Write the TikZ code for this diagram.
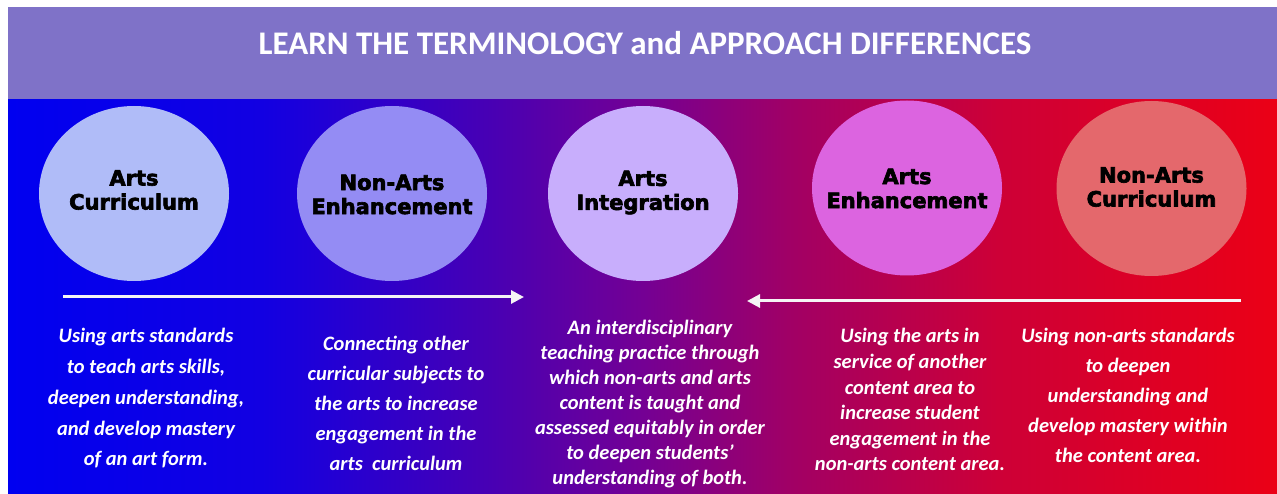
\documentclass[tikz,border=0pt]{standalone}
\usepackage{fontspec}
\setmainfont{Carlito}
\newfontfamily\bubblefont{DejaVu Sans}[BoldFeatures={FakeBold=3}]
\usetikzlibrary{arrows.meta,shapes.geometric}
\definecolor{headpurple}{RGB}{127,114,200}
\definecolor{bandA}{RGB}{0,0,240}
\definecolor{bandB}{RGB}{18,0,226}
\definecolor{bandC}{RGB}{72,0,180}
\definecolor{bandD}{RGB}{116,0,148}
\definecolor{bandE}{RGB}{162,0,100}
\definecolor{bandF}{RGB}{205,0,55}
\definecolor{bandG}{RGB}{235,0,22}
\definecolor{acurfill}{RGB}{176,188,248}
\definecolor{naefill}{RGB}{148,140,244}
\definecolor{aifill}{RGB}{200,174,252}
\definecolor{aefill}{RGB}{220,100,224}
\definecolor{nacfill}{RGB}{228,104,108}
% only 25bp..75bp of a shading reaches the path
\pgfdeclarehorizontalshading{bandshade}{100bp}{color(0bp)=(bandA); color(25bp)=(bandA); color(35bp)=(bandB); color(44bp)=(bandC); color(50bp)=(bandD); color(56bp)=(bandE); color(64bp)=(bandF); color(75bp)=(bandG); color(100bp)=(bandG)}

\begin{document}
\begin{tikzpicture}[x=1pt,y=-1pt,
  bubble/.style={ellipse, minimum width=190pt, minimum height=175pt, inner sep=0pt},
  bubbletext/.style={font=\bubblefont\bfseries\fontsize{21}{24}\selectfont, align=center, inner sep=0pt},
  desc/.style={text=white, font=\bfseries\itshape\fontsize{20.5}{30}\selectfont, align=center, anchor=north, inner sep=0pt},
  tight/.style={font=\bfseries\itshape\fontsize{20.5}{25}\selectfont},
  flow/.style={white!92!gray, line width=3pt, -{Triangle[length=13pt,width=13pt]}}]
\useasboundingbox (0,0) rectangle (1277,494);
\fill[white] (0,0) rectangle (1277,494);
\fill[headpurple] (8,7) rectangle (1277,100);
\shade[shading=bandshade] (8,100) rectangle (1277,494);

\node[text=white, font=\bfseries\fontsize{33}{38}\selectfont, anchor=base] (title) at (645,55) {LEARN THE TERMINOLOGY and APPROACH DIFFERENCES};

\node[bubble, fill=acurfill] (acur) at (134,193.5) {};
\node[bubble, fill=naefill] (nae) at (392,193.5) {};
\node[bubble, fill=aifill] (ai) at (643,193.5) {};
\node[bubble, fill=aefill] (ae) at (907,188) {};
\node[bubble, fill=nacfill] (nac) at (1151.5,188.5) {};

\node[bubbletext] (acurtext) at (134,190) {Arts\\Curriculum};
\node[bubbletext] (naetext) at (392,194.5) {Non-Arts\\Enhancement};
\node[bubbletext] (aitext) at (643,192.5) {Arts\\Integration};
\node[bubbletext] (aetext) at (907,188.5) {Arts\\Enhancement};
\node[bubbletext] (nactext) at (1151.5,187) {Non-Arts\\Curriculum};

% draw the arrows
\coordinate (r0) at (63,297);
\coordinate (r1) at (524,297);
\coordinate (l0) at (1241,301);
\coordinate (l1) at (747,301);
\draw[flow] (r0) -- (r1);
\draw[flow] (l0) -- (l1);

\node[desc, font=\bfseries\itshape\fontsize{20.5}{30.75}\selectfont] (usearts) at (146,328.4) {Using arts standards\\to teach arts skills,\\deepen understanding,\\and develop mastery\\of an art form.};
\node[desc] (connect) at (396,336.4) {Connecting other\\curricular subjects to\\the arts to increase\\engagement in the\\arts\ \ curriculum};
\node[desc, tight] (interdisc) at (650,320.1) {An interdisciplinary\\teaching practice through\\which non-arts and arts\\content is taught and\\assessed equitably in order\\to deepen students’\\understanding of both.};
\node[desc, font=\bfseries\itshape\fontsize{20.5}{25.6}\selectfont] (service) at (910,328.4) {Using the arts in\\service of another\\content area to\\increase student\\engagement in the\\non-arts content area.};
\node[desc] (usenonarts) at (1128,328.4) {Using non-arts standards\\to deepen\\understanding and\\develop mastery within\\the content area.};

\end{tikzpicture}
\end{document}
